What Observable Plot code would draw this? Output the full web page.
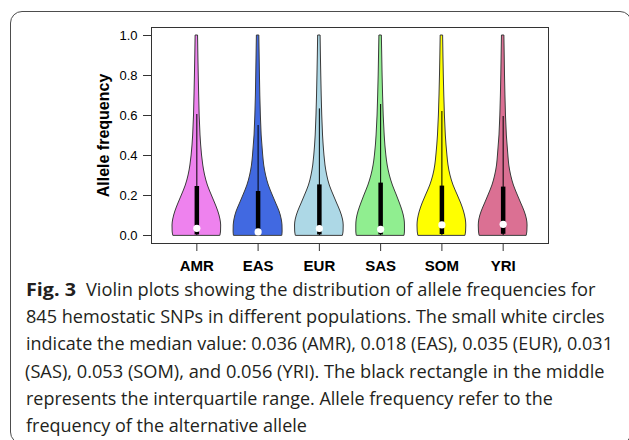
<!DOCTYPE html>
<html>
<head>
<meta charset="utf-8">
<script src="https://cdn.jsdelivr.net/npm/d3@7"></script>
<script src="https://cdn.jsdelivr.net/npm/@observablehq/plot@0.6"></script>
<style>
  html, body { margin: 0; padding: 0; background: #fff; }
  #wrap { position: relative; width: 629px; height: 440px; overflow: hidden; background: #fff; }
  #border { position: absolute; left: 10px; top: 11px; width: 622px; height: 433px; box-sizing: border-box;
            border: 1.5px solid #4d4d4d; border-radius: 12px; }
  #chart { position: absolute; left: 0; top: 0; }
  #cap { position: absolute; left: 0; top: 266px; }
  #cap text { font-family: "Open Sans", "Noto Sans", sans-serif; font-size: 17.5px; fill: #231f20; }
</style>
</head>
<body>
<div id="wrap">
  <div id="border"></div>
  <div id="chart"></div>
  <svg id="cap" width="629" height="174"></svg>
</div>
<script>
// ---- data ----
const pops = ["AMR", "EAS", "EUR", "SAS", "SOM", "YRI"];
const colors = ["violet", "royalblue", "lightblue", "lightgreen", "yellow", "palevioletred"];
const medians = [0.036, 0.018, 0.035, 0.031, 0.053, 0.056];
const q1 = [0.003, 0.002, 0.003, 0.003, 0.005, 0.006];
const q3 = [0.245, 0.22, 0.253, 0.262, 0.247, 0.242];
const whiskerHi = [0.605, 0.55, 0.633, 0.655, 0.62, 0.595];
const whiskerLo = [0, 0, 0, 0, 0, 0];
const yTicks = [0, 0.2, 0.4, 0.6, 0.8, 1.0];
const yLabel = "Allele frequency";
// density levels (allele frequency) and violin half-widths (fraction of category spacing)
const levels = [0, 0.02, 0.05, 0.08, 0.12, 0.16, 0.2, 0.25, 0.3, 0.35, 0.4, 0.5, 0.6, 0.7, 0.8, 0.9, 1.0];
const wAMR = [0.385, 0.395, 0.397, 0.385, 0.35, 0.30, 0.245, 0.18, 0.135, 0.105, 0.085, 0.06, 0.046, 0.038, 0.031, 0.025, 0.02];
const wEAS = [0.395, 0.40, 0.398, 0.385, 0.35, 0.295, 0.24, 0.175, 0.13, 0.10, 0.083, 0.058, 0.045, 0.036, 0.03, 0.025, 0.02];
const wEUR = [0.385, 0.395, 0.397, 0.385, 0.345, 0.29, 0.235, 0.17, 0.128, 0.10, 0.083, 0.06, 0.047, 0.038, 0.031, 0.025, 0.02];
const wSAS = [0.39, 0.397, 0.397, 0.39, 0.36, 0.315, 0.265, 0.20, 0.15, 0.115, 0.093, 0.066, 0.05, 0.04, 0.032, 0.026, 0.02];
const wSOM = [0.385, 0.395, 0.398, 0.39, 0.36, 0.315, 0.26, 0.19, 0.14, 0.108, 0.09, 0.064, 0.049, 0.039, 0.031, 0.025, 0.02];
const wYRI = [0.385, 0.395, 0.398, 0.388, 0.35, 0.295, 0.24, 0.175, 0.13, 0.10, 0.085, 0.06, 0.046, 0.037, 0.03, 0.025, 0.02];
const halfWidths = [wAMR, wEAS, wEUR, wSAS, wSOM, wYRI];

const captionBold = "Fig. 3";
const captionLines = [
  "Violin plots showing the distribution of allele frequencies for",
  "845 hemostatic SNPs in different populations. The small white circles",
  "indicate the median value: 0.036 (AMR), 0.018 (EAS), 0.035 (EUR), 0.031",
  "(SAS), 0.053 (SOM), and 0.056 (YRI). The black rectangle in the middle",
  "represents the interquartile range. Allele frequency refer to the",
  "frequency of the alternative allele"
];

// ---- build tables ----
const violinRows = pops.flatMap((p, i) => levels.map((v, k) => ({pop: p, pos: i + 1, v, w: halfWidths[i][k]})));
const stats = pops.map((p, i) => ({pop: p, pos: i + 1, med: medians[i], q1: q1[i], q3: q3[i], lo: whiskerLo[i], hi: whiskerHi[i]}));
const positions = pops.map((p, i) => i + 1);

const chart = Plot.plot({
  width: 629,
  height: 280,
  marginLeft: 151,
  marginRight: 81,
  marginTop: 27,
  marginBottom: 37,
  style: {fontFamily: "'Liberation Sans', Arial, sans-serif", background: "transparent", color: "#000", overflow: "visible"},
  x: {type: "linear", domain: [0.26, 6.74], axis: null},
  y: {domain: [-0.04, 1.04], axis: null},
  color: {domain: pops, range: colors},
  marks: [
    Plot.areaX(violinRows, {
      y: "v", x1: d => d.pos - d.w, x2: d => d.pos + d.w, z: "pop", fill: "pop",
      stroke: "#3a3a3a", strokeWidth: 1, curve: "monotone-y"
    }),
    Plot.ruleX(stats, {x: "pos", y1: "lo", y2: "hi", stroke: "#000", strokeWidth: 1}),
    Plot.ruleX(stats, {x: "pos", y1: "q1", y2: "q3", stroke: "#000", strokeWidth: 4.5}),
    Plot.dot(stats, {x: "pos", y: "med", r: 3.6, fill: "white", stroke: "none"}),
    Plot.frame({stroke: "#333", strokeWidth: 1}),
    Plot.axisY({ticks: yTicks, tickFormat: d3.format(".1f"), tickSize: 8, tickPadding: 6, fontSize: 13, stroke: "#333", label: null}),
    Plot.axisX({ticks: positions, tickFormat: d => pops[d - 1], tickSize: 8, tickPadding: 9, fontSize: 15, fontWeight: "bold", stroke: "#333", label: null}),
    Plot.text([yLabel], {frameAnchor: "left", dx: -47.5, rotate: -90, textAnchor: "middle", lineAnchor: "middle", fontSize: 16, fontWeight: "bold", fill: "#000"})
  ]
});
document.getElementById("chart").appendChild(chart);

// ---- caption ----
const cap = document.getElementById("cap");
const NS = "http://www.w3.org/2000/svg";
const layout = [
  {x: 86, right: 596, base: 30},
  {x: 26, right: 605, base: 57},
  {x: 26, right: 613, base: 84},
  {x: 25, right: 605, base: 112},
  {x: 26, right: 553, base: 139},
  {x: 26, right: 307, base: 166}
];
function addText(str, x, right, base, bold) {
  const t = document.createElementNS(NS, "text");
  t.textContent = str;
  if (bold) t.setAttribute("font-weight", "bold");
  cap.appendChild(t);
  const len = t.getComputedTextLength();
  const s = (right - x) / len;
  t.setAttribute("transform", `translate(${x},${base}) scale(${s},1)`);
}
addText(captionBold, 26, 76, 30, true);
captionLines.forEach((line, i) => addText(line, layout[i].x, layout[i].right, layout[i].base, false));
</script>
</body>
</html>
